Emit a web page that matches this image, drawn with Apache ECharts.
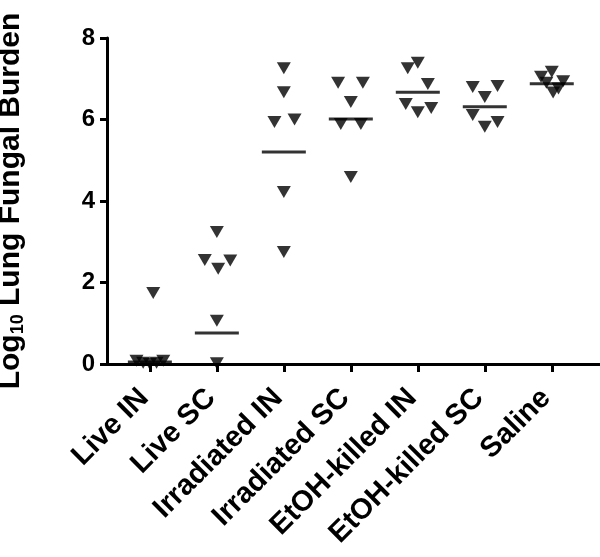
<!DOCTYPE html>
<html>
<head>
<meta charset="utf-8">
<script src="https://cdn.jsdelivr.net/npm/echarts@6/dist/echarts.min.js"></script>
<style>
  html, body { margin: 0; padding: 0; background: #fff; }
  #chart { width: 600px; height: 557px; }
</style>
</head>
<body>
<div id="chart"></div>
<script>
var categories = ['Live IN', 'Live SC', 'Irradiated IN', 'Irradiated SC', 'EtOH-killed IN', 'EtOH-killed SC', 'Saline'];

// log10 burden per animal, one array per group
var liveIN = [1.74, 0.08, 0.03, 0.0, 0.03, 0.08];
var liveSC = [3.24, 2.55, 2.34, 2.54, 1.06, 0.02];
var irradIN = [7.26, 6.67, 5.94, 6.0, 4.22, 2.75];
var irradSC = [6.9, 6.9, 6.43, 5.89, 5.89, 4.59];
var etohIN = [7.26, 7.39, 6.87, 6.38, 6.18, 6.28];
var etohSC = [6.8, 6.82, 6.55, 6.11, 5.94, 5.82];
var saline = [7.05, 7.17, 6.94, 6.66, 6.76, 6.9];

// horizontal spread of the dots inside each group (category units)
var liveINJitter = [0.05, -0.2, -0.1, 0, 0.1, 0.2];
var liveSCJitter = [0, -0.18, 0.02, 0.2, 0, 0];
var irradINJitter = [0, 0, -0.14, 0.16, 0, 0];
var irradSCJitter = [-0.19, 0.18, 0, -0.15, 0.15, 0];
var etohINJitter = [-0.15, 0, 0.15, -0.18, 0, 0.2];
var etohSCJitter = [-0.18, 0.19, 0, -0.18, 0.19, 0];
var salineJitter = [-0.16, 0, 0.17, 0.02, 0.1, -0.08];

// group centre lines
var centreLines = [0.05, 0.76, 5.2, 6.01, 6.67, 6.31, 6.88];

var yTicks = [0, 2, 4, 6, 8];

var groups = [liveIN, liveSC, irradIN, irradSC, etohIN, etohSC, saline];
var jitters = [liveINJitter, liveSCJitter, irradINJitter, irradSCJitter, etohINJitter, etohSCJitter, salineJitter];

var points = [];
groups.forEach(function (vals, i) {
  vals.forEach(function (v, j) {
    points.push([i + jitters[i][j], v]);
  });
});
var lines = centreLines.map(function (v, i) { return [i, v]; });
var catIdx = categories.map(function (c, i) { return i; });

var chart = echarts.init(document.getElementById('chart'));
var font = 'Liberation Sans';

chart.setOption({
  animation: false,
  grid: { left: 107, right: 0, top: 38, bottom: 193, containLabel: false, outerBoundsMode: 'none' },
  xAxis: {
    type: 'value',
    min: -0.64,
    max: 6.72,
    splitLine: { show: false },
    axisLine: { onZero: false, lineStyle: { color: '#000', width: 3 } },
    axisTick: { customValues: catIdx, length: 8, lineStyle: { color: '#000', width: 3 } },
    axisLabel: {
      customValues: catIdx,
      rotate: 45,
      margin: 24,
      padding: [0, 8, 0, 0],
      color: '#000',
      fontFamily: font,
      fontWeight: 'bold',
      fontSize: 29,
      formatter: function (v) { return categories[Math.round(v)]; }
    }
  },
  yAxis: {
    type: 'value',
    min: 0,
    max: 8,
    interval: 2,
    splitLine: { show: false },
    axisLine: { show: true, onZero: false, lineStyle: { color: '#000', width: 3 } },
    axisTick: { show: true, length: 7, lineStyle: { color: '#000', width: 3 } },
    axisLabel: {
      margin: 12,
      color: '#000',
      fontFamily: font,
      fontWeight: 'bold',
      fontSize: 24,
      formatter: function (v) { return yTicks.indexOf(v) >= 0 ? String(v) : ''; }
    },
    name: '{a|Log}{s|10}{a| Lung Fungal Burden}',
    nameLocation: 'middle',
    nameRotate: 90,
    nameGap: 80,
    nameTextStyle: {
      rich: {
        a: { fontFamily: font, fontWeight: 'bold', fontSize: 30, color: '#000' },
        s: { fontFamily: font, fontWeight: 'bold', fontSize: 18, color: '#000', verticalAlign: 'bottom', padding: [14, 0, 0, 0] }
      }
    }
  },
  series: [
    {
      type: 'scatter',
      data: points,
      symbol: 'triangle',
      symbolRotate: 180,
      symbolSize: [14, 12],
      itemStyle: { color: '#000' }
    },
    {
      type: 'scatter',
      data: lines,
      symbol: 'rect',
      symbolSize: [44, 3],
      itemStyle: { color: '#000' },
      z: 3
    }
  ]
});
</script>
</body>
</html>
